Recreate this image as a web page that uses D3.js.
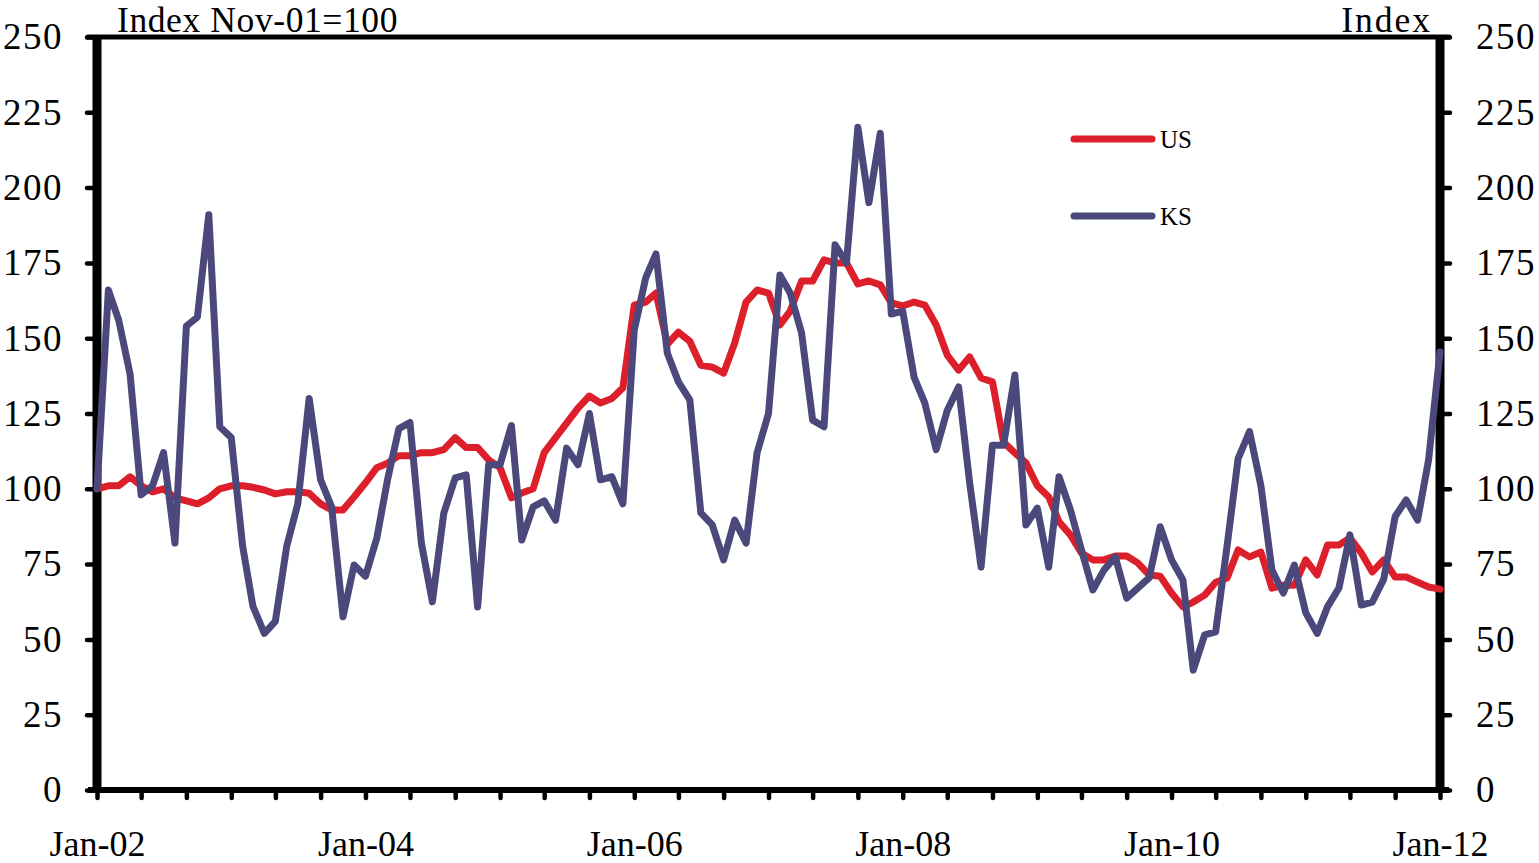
<!DOCTYPE html>
<html>
<head>
<meta charset="utf-8">
<script src="https://cdn.jsdelivr.net/npm/d3@7"></script>
<style>
  html, body { margin: 0; padding: 0; background: #fff; }
  svg { display: block; }
  text { font-family: "Liberation Serif", "Times New Roman", serif; fill: #000; }
</style>
</head>
<body>
<script>
// ---- Data (monthly, Jan-02 .. Jan-12) ----
const startMonth = new Date(2002, 0, 1);
const endMonth = new Date(2012, 0, 1);

const usValues = [
  100,101,101,104,101,99,100,97,96,95,97,100,101,101,100.5,99.6,98.3,99,99,98.5,95,93,93,
  97.3,102,107,108.5,111,111,112,112,113,117,113.7,113.7,109.6,107,97,98.6,100,112,117,121.8,126.8,130.8,
  128.5,130,133.5,161,162,165,148,152,149,141,140.4,138.4,148.4,162,166,165,154.4,159,169,169,176,
  175,175,168,169,167.7,161.7,160.7,162,161,154.4,144.4,139.4,143.8,136.8,135.5,115.5,111.9,108.6,101,97.3,89,
  84.7,78.7,76.4,76.4,77.7,77.7,75.4,71.4,71,65.4,60.8,62.4,64.7,69,70.4,79.7,77.4,79,67,68,68,76.4,
  71.4,81.3,81.3,83.7,78.7,72.4,76.4,70.7,70.7,69,67.4,66.7
];

const ksValues = [
  100,166,156,138,98,101,112,82,154,157,191,120.6,117,81,61,52,56,81,95,130,103,94,57.5,
  74.7,71,83.7,103,120,122,82,62.5,91.9,103.6,104.6,60.8,108,108,121,83,94,96,89.6,113.5,108,125,
  103,104,95,152.7,170,178,145,135.5,129.5,92,88,76.4,89.6,82,112,125,171,165,151.7,122.8,120.6,
  181,175,220,195,218,158,159,137,128.5,113,126,133.8,102,74,114.5,114.5,137.8,88,93.6,74,104,
  93,79.7,66.4,73,77.4,63.7,67,70.4,87.4,76.4,69.7,39.8,51.5,52.5,81,110,119,101,73,65.4,74.7,58.8,
  52,60.8,67,84.7,61.4,62.4,70,90.8,96.3,89.6,109.6,145.4
];

const seriesNames = ["US", "KS"];
const yTickValues = [0, 25, 50, 75, 100, 125, 150, 175, 200, 225, 250];
const xLabelDates = [
  new Date(2002,0,1), new Date(2004,0,1), new Date(2006,0,1),
  new Date(2008,0,1), new Date(2010,0,1), new Date(2012,0,1)
];
const xLabelTexts = ["Jan-02", "Jan-04", "Jan-06", "Jan-08", "Jan-10", "Jan-12"];
const leftTitle = "Index Nov-01=100";
const rightTitle = "Index";

// ---- Layout ----
const W = 1539, H = 863;
const months = d3.timeMonth.range(startMonth, d3.timeMonth.offset(endMonth, 1));
const colors = { US: "#DC1F2A", KS: "#4B497B" };

const svg = d3.select("body").append("svg").attr("width", W).attr("height", H);

const x = d3.scaleTime().domain([startMonth, endMonth]).range([97, 1440]);
const y = d3.scaleLinear().domain([0, 250]).range([790, 37]);

// plot border top
svg.append("line").attr("x1", 88).attr("x2", 1449).attr("y1", y(250)).attr("y2", y(250))
  .attr("stroke", "#000").attr("stroke-width", 5).attr("stroke-linecap", "round");

// Left axis
const leftAxis = d3.axisLeft(y).tickValues(yTickValues).tickSize(10).tickPadding(24).tickFormat(d3.format("d"));
const gl = svg.append("g").attr("transform", `translate(${x(startMonth)},0)`).call(leftAxis);
// Right axis
const rightAxis = d3.axisRight(y).tickValues(yTickValues).tickSize(10).tickPadding(26).tickFormat(d3.format("d"));
const gr = svg.append("g").attr("transform", `translate(${x(endMonth)},0)`).call(rightAxis);

// X axis minor ticks every 4 months
const xTickDates = d3.timeMonth.every(4).range(startMonth, d3.timeMonth.offset(endMonth, 1));
const xAxis = d3.axisBottom(x).tickValues(xTickDates).tickSize(8).tickFormat("");
const gx = svg.append("g").attr("transform", `translate(0,${y(0)})`).call(xAxis);
// X labels
const xLabelAxis = d3.axisBottom(x).tickValues(xLabelDates).tickSize(0).tickPadding(40)
  .tickFormat((d, i) => xLabelTexts[i]);
const gxl = svg.append("g").attr("transform", `translate(0,${y(0)})`).call(xLabelAxis);
gxl.select(".domain").remove();

[gl, gr].forEach(g => {
  g.selectAll("text").style("font-family", '"Liberation Serif", "Times New Roman", serif')
    .style("font-size", "37px").style("letter-spacing", "1.5px").attr("fill", "#000");
});
gxl.selectAll("text").style("font-family", '"Liberation Serif", "Times New Roman", serif')
  .style("font-size", "36px").attr("fill", "#000");
[gl, gr, gx].forEach(g => {
  g.selectAll(".tick line").attr("stroke", "#000").attr("stroke-width", 4.5).attr("stroke-linecap", "round");
});
gl.select(".domain").attr("stroke", "#000").attr("stroke-width", 9).attr("d", `M0,${y(250)-2}V${y(0)+3}`);
gr.select(".domain").attr("stroke", "#000").attr("stroke-width", 9).attr("d", `M0,${y(250)-2}V${y(0)+3}`);
gx.select(".domain").attr("stroke", "#000").attr("stroke-width", 6).attr("d", `M88,0H1449`);

// Titles
svg.append("text").attr("x", 117).attr("y", 32).attr("font-size", 35.5)
  .style("letter-spacing", "0.6px").text(leftTitle);
svg.append("text").attr("x", 1432).attr("y", 32).attr("font-size", 35.5).attr("text-anchor", "end")
  .style("letter-spacing", "2px").text(rightTitle);

// Lines
const line = d3.line().x((d, i) => x(months[i])).y(d => y(d));
const data = { US: usValues, KS: ksValues };
seriesNames.forEach(name => {
  svg.append("path").datum(data[name]).attr("d", line)
    .attr("fill", "none").attr("stroke", colors[name]).attr("stroke-width", 7)
    .attr("stroke-linejoin", "round").attr("stroke-linecap", "round");
});

// Legend
const legendY = { US: 139, KS: 216 };
seriesNames.forEach(name => {
  svg.append("line").attr("x1", 1074).attr("x2", 1152).attr("y1", legendY[name]).attr("y2", legendY[name])
    .attr("stroke", colors[name]).attr("stroke-width", 7).attr("stroke-linecap", "round");
  svg.append("text").attr("x", 1160).attr("y", legendY[name] + 9).attr("font-size", 25).text(name);
});
</script>
</body>
</html>
